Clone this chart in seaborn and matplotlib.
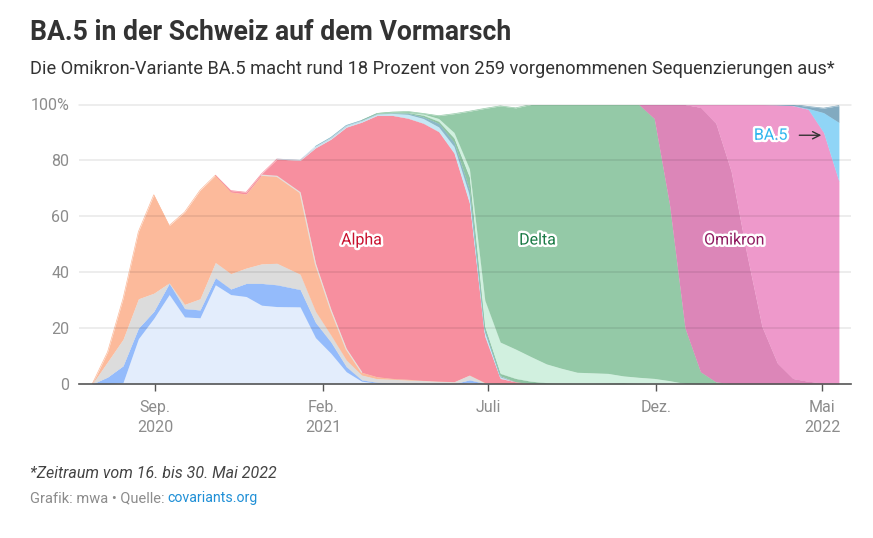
import matplotlib
matplotlib.use('Agg')
import matplotlib.pyplot as plt
import matplotlib.patheffects as pe
import pandas as pd
import seaborn as sns

dates = ['2020-07-06','2020-07-20','2020-08-03','2020-08-17','2020-08-31','2020-09-14','2020-09-28',
         '2020-10-12','2020-10-26','2020-11-09','2020-11-23','2020-12-07','2020-12-21','2021-01-11',
         '2021-01-25','2021-02-08','2021-02-22','2021-03-08','2021-03-22','2021-04-05','2021-04-19',
         '2021-05-03','2021-05-17','2021-05-31','2021-06-14','2021-06-28','2021-07-12','2021-07-26',
         '2021-08-09','2021-08-23','2021-09-06','2021-09-20','2021-10-04','2021-10-18','2021-11-01',
         '2021-11-15','2021-11-29','2021-12-13','2021-12-27','2022-01-10','2022-01-24','2022-02-07',
         '2022-02-21','2022-03-07','2022-03-21','2022-04-04','2022-04-18','2022-05-02','2022-05-16']

# oberer Rand jeder Schicht in Prozent (kumuliert), von unten nach oben
others = [0,0,0.5,16.2,23.5,32,24,23.7,35.5,32,31.3,28.2,27.7,27.6,16.6,11,4.4,1,0.3,0.2,0.1,0.1,0,0,0.5,0,
          0,0,0,0,0,0,0,0,0,0,0,0,0,0,0,0,0,0,0,0,0,0,0]
blue = [0,2.5,6.5,20,26,36,27,26.5,38,34,36,36,35.5,33.8,22,15,6.2,1.5,0.6,0.4,0.3,0.2,0.2,0.1,1.5,0.2,
        0,0,0,0,0,0,0,0,0,0,0,0,0,0,0,0,0,0,0,0,0,0,0]
grey = [0,8,16,30.5,32.5,36.2,28.5,30.5,43.5,39.5,41.5,43,43.2,39.3,26,17.5,8.6,3.2,1.9,1.7,1.4,1.2,1,0.8,3.2,0.5,0.05,
        0,0,0,0,0,0,0,0,0,0,0,0,0,0,0,0,0,0,0,0,0,0]
peach = [0,11.5,30.5,54.5,67.7,56.7,61.5,69.3,74.7,68.7,68,74.7,74.3,68.5,43,26.5,12.5,4.2,2.6,2,1.7,1.3,1.05,0.85,3.25,0.55,0.1,
         0,0,0,0,0,0,0,0,0,0,0,0,0,0,0,0,0,0,0,0,0,0]
alpha = [0,11.5,30.5,54.5,67.7,56.7,61.5,69.3,74.7,69.2,68.6,75.2,80.5,80,84.5,87.6,91.9,93.7,96.1,96.1,95.1,93.3,90.3,82.6,64.7,17,2,0.8,0.1,
         0,0,0,0,0,0,0,0,0,0,0,0,0,0,0,0,0,0,0,0]
sky = [0,11.5,30.5,54.5,67.7,56.7,61.5,69.3,74.7,69.2,68.6,75.2,80.5,80.1,85,88.1,92.4,94.2,96.6,96.8,96.5,95,92,85,67.5,18.5,2.5,0.8,0.1,
       0,0,0,0,0,0,0,0,0,0,0,0,0,0,0,0,0,0,0,0]
steel = [0,11.5,30.5,54.5,67.7,56.7,61.5,69.3,74.7,69.2,68.6,75.2,80.5,80.1,85,88.2,92.5,94.3,96.7,97,96.9,95.6,93.3,86.5,69.5,19.5,2.9,0.8,0.1,
         0,0,0,0,0,0,0,0,0,0,0,0,0,0,0,0,0,0,0,0]
delta_dark = [0,11.5,30.5,54.5,67.7,56.7,61.5,69.3,74.7,69.2,68.6,75.2,80.5,80.1,85,88.2,92.5,94.3,96.8,97.1,97.1,96.2,94,88,74,20.5,3.8,2,1,0.5,0.3,0.2,0.2,0.4,0.5,0.2,0.1,
              0,0,0,0,0,0,0,0,0,0,0,0]
delta_light = [0,11.5,30.5,54.5,67.7,56.7,61.5,69.3,74.7,69.2,68.6,75.2,80.5,80.1,85,88.2,92.5,94.3,96.8,97.2,97.2,96.6,95,90,77,30,15,12.5,9.8,7.2,5.6,4.2,4,3.8,2.9,2.4,2,1.2,0.2,
               0,0,0,0,0,0,0,0,0,0]
delta = [0,11.5,30.5,54.5,67.7,56.7,61.5,69.3,74.7,69.2,68.6,75.2,80.5,80.1,85,88.2,92.5,94.3,96.8,97.3,97.5,96.8,96,96.7,97.6,98.6,99.5,98.8,100,100,100,100,100,100,100,100,95,64,20,4.4,0.8,0.1,
         0,0,0,0,0,0,0]
omikron_dark = [0,11.5,30.5,54.5,67.7,56.7,61.5,69.3,74.7,69.2,68.6,75.2,80.5,80.1,85,88.2,92.5,94.3,96.8,97.3,97.5,96.8,96,96.7,97.6,98.6,99.5,98.8,100,100,100,100,100,100,100,100,100,100,100,99,93.3,76,46.8,20.5,7.4,2,1,0.4,0.2]
omikron = [0,11.5,30.5,54.5,67.7,56.7,61.5,69.3,74.7,69.2,68.6,75.2,80.5,80.1,85,88.2,92.5,94.3,96.8,97.3,97.5,96.8,96,96.7,97.6,98.6,99.5,98.8,100,100,100,100,100,100,100,100,100,100,100,100,100,100,100,100,99.9,99.6,98.3,90,72.4]
ba5 = [0,11.5,30.5,54.5,67.7,56.7,61.5,69.3,74.7,69.2,68.6,75.2,80.5,80.1,85,88.2,92.5,94.3,96.8,97.3,97.5,96.8,96,96.7,97.6,98.6,99.5,98.8,100,100,100,100,100,100,100,100,100,100,100,100,100,100,100,100,99.9,99.7,98.6,97.1,93.6]
ba_rest = [0,11.5,30.5,54.5,67.7,56.7,61.5,69.3,74.7,69.2,68.6,75.2,80.5,80.1,85,88.2,92.5,94.3,96.8,97.3,97.5,96.8,96,96.7,97.6,98.6,99.5,98.8,100,100,100,100,100,100,100,100,100,100,100,100,100,100,100,100,100,100,99.3,98.7,99.6]

layers = [others, blue, grey, peach, alpha, sky, steel, delta_dark, delta_light, delta, omikron_dark, omikron, ba5, ba_rest]
colors = ['#e3edfc','#94bbfb','#dcdcdc','#fcba9b','#f78f9f','#c5e8f5','#8bb8c6','#8fc4a3','#d1f0df','#94c9a7','#dc86b8','#ee99cb','#90d5f6','#82aac0']

y_ticks = [0, 20, 40, 60, 80, 100]
y_labels = ['0', '20', '40', '60', '80', '100%']
x_ticks = ['2020-09-01', '2021-02-01', '2021-07-01', '2021-12-01', '2022-05-01']
x_labels = ['Sep.\n2020', 'Feb.\n2021', 'Juli', 'Dez.', 'Mai\n2022']

sns.set_theme(style='white')
plt.rcParams['font.family'] = ['Roboto', 'DejaVu Sans']

W, H = 873, 538
fig = plt.figure(figsize=(W / 100, H / 100), dpi=100)
ax = fig.add_axes([79 / W, 1 - 384 / H, 772 / W, 279.5 / H])

x = pd.to_datetime(dates)
lower = [0] * len(x)
for top, col in zip(layers, colors):
    ax.fill_between(x, lower, top, color=col, linewidth=0, zorder=2)
    # Randlinie nur dort, wo die Schicht wirklich Dicke hat
    n = len(x)
    run = []
    for i in range(n):
        if (top[i] > lower[i]) or (i + 1 < n and top[i + 1] > lower[i + 1]):
            run.append(i)
        elif run:
            sns.lineplot(x=x[run], y=[top[j] for j in run], color=col, linewidth=0.5, ax=ax, zorder=2, errorbar=None)
            run = []
    if run:
        sns.lineplot(x=x[run], y=[top[j] for j in run], color=col, linewidth=0.5, ax=ax, zorder=2, errorbar=None)
    lower = top

# heller Saum zwischen Peach und Alpha
sns.lineplot(x=x[11:18], y=peach[11:18], color='#e6e0dc', linewidth=0.9, ax=ax, zorder=2, errorbar=None)

ax.set_xlim(pd.Timestamp('2020-06-24'), pd.Timestamp('2022-05-27'))
ax.set_ylim(0, 100)
ax.set_xlabel('')
ax.set_ylabel('')
for s in ['top', 'left', 'right']:
    ax.spines[s].set_visible(False)
ax.spines['bottom'].set_color('#555555')
ax.spines['bottom'].set_linewidth(1.2)
ax.spines['bottom'].set_zorder(5)

ax.set_yticks(y_ticks)
ax.set_yticklabels(y_labels, fontsize=11.5, color='#8c8c8c')
ax.set_xticks(pd.to_datetime(x_ticks))
ax.set_xticklabels(x_labels, fontsize=11.5, color='#8c8c8c', linespacing=1.45)
ax.tick_params(axis='y', length=0, pad=7)
ax.tick_params(axis='x', length=5, width=1, color='#555555', bottom=True, pad=6.5)
ax.grid(axis='y', color='black', alpha=0.09, linewidth=1.1, zorder=3)
ax.set_axisbelow(False)
ax.yaxis.get_gridlines()[0].set_visible(False)
ax.yaxis.get_gridlines()[-1].set_clip_on(False)

# Beschriftungen im Chart
outline = [pe.withStroke(linewidth=3.5, foreground='white')]
for label, day, yy, col in [('Alpha', '2021-03-08', 51.5, '#c8102e'),
                            ('Delta', '2021-08-15', 51.5, '#1a7a45'),
                            ('Omikron', '2022-02-10', 51.5, '#8f1a60'),
                            ('BA.5', '2022-03-15', 89, '#2fb5ee')]:
    ax.text(pd.Timestamp(day), yy, label, color=col, fontsize=11.5, ha='center', va='center',
            path_effects=outline, zorder=6)
ax.annotate('', xy=(pd.Timestamp('2022-04-30'), 89), xytext=(pd.Timestamp('2022-04-10'), 89),
            arrowprops=dict(arrowstyle='->', color='#333333', lw=1, mutation_scale=13, shrinkA=0, shrinkB=0), zorder=6)

def px_text(px, py, s, **kw):
    fig.text(px / W, 1 - py / H, s, va='center', ha='left', **kw)

px_text(30, 32, 'BA.5 in der Schweiz auf dem Vormarsch', fontsize=19.15, fontweight='bold', color='#333333')
px_text(30, 69, 'Die Omikron-Variante BA.5 macht rund 18 Prozent von 259 vorgenommenen Sequenzierungen aus*',
        fontsize=13.13, color='#333333')
px_text(30, 473, '*Zeitraum vom 16. bis 30. Mai 2022', fontsize=11.5, style='italic', color='#444444')
px_text(30, 498, 'Grafik: mwa • Quelle:', fontsize=10.5, color='#8c8c8c')
px_text(167, 498, 'covariants.org', fontsize=10.2, color='#1f8fd6')

fig.savefig('out.png', dpi=100)
